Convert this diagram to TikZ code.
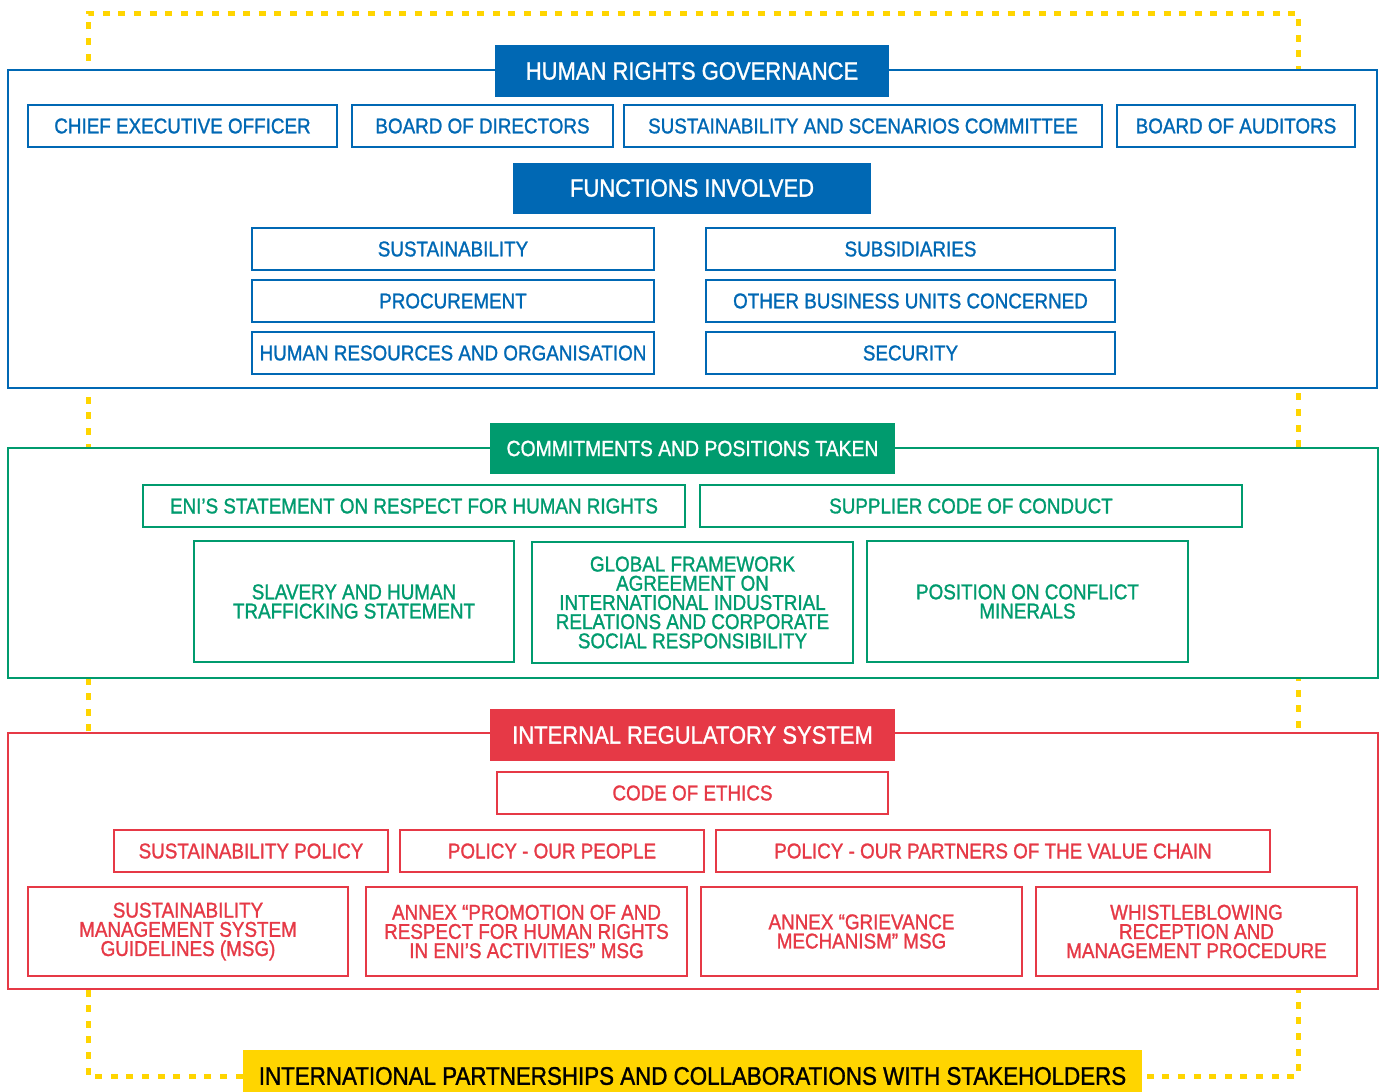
\documentclass[tikz,border=0pt]{standalone}
\usepackage{fontspec}
\setmainfont{Liberation Sans}[FakeStretch=0.88,FakeBold=1.2]
\definecolor{hrblue}{RGB}{0,104,180}
\definecolor{hrgreen}{RGB}{0,155,110}
\definecolor{hrred}{RGB}{230,57,70}
\definecolor{hryellow}{RGB}{255,213,0}
\tikzset{
  group/.style={draw=#1, line width=1pt, fill=white, inner sep=0pt},
  title/.style={fill=#1, text=white, inner sep=0pt, font=\fontsize{12.5}{12.5}\selectfont},
  item/.style={draw=#1, text=#1, line width=1pt, fill=white, inner sep=0pt,
    align=center, font=\fontsize{10.7}{9.6}\selectfont},
  link/.style={draw=hryellow, line width=2.5pt, dash pattern=on 3.5pt off 4.3pt}
}
\begin{document}
\begin{tikzpicture}[x=0.5pt,y=-0.5pt]
      \useasboundingbox (0,0) rectangle (1383,1092);
      \coordinate (ytl) at (88,13);
      \coordinate (ytr) at (1298,13);
      \node[title=hryellow, text=black, minimum width=449.5pt, minimum height=26pt, font=\fontsize{12.7}{12.7}\selectfont] (partners)
        at (692.5,1076) {INTERNATIONAL PARTNERSHIPS AND COLLABORATIONS WITH STAKEHOLDERS};
      \begin{scope}[-]
        \draw[link] (partners.west) -| (ytl) -- (ytr) |- (partners.east);
      \end{scope}
      \node[group=hrblue, minimum width=684.5pt, minimum height=159pt] (governance) at (692.5,229) {};
      \node[group=hrgreen, minimum width=685pt, minimum height=115pt] (commitments) at (693,563) {};
      \node[group=hrred, minimum width=685pt, minimum height=128pt] (regulatory) at (693,861) {};
      \node[title=hrblue, minimum width=197pt, minimum height=26pt] (hrg) at (692,71) {HUMAN RIGHTS GOVERNANCE};
      \node[item=hrblue, minimum width=154.5pt, minimum height=21pt] (ceo) at (182.5,126) {CHIEF EXECUTIVE OFFICER};
      \node[item=hrblue, minimum width=130.5pt, minimum height=21pt] (bod) at (482.5,126) {BOARD OF DIRECTORS};
      \node[item=hrblue, minimum width=239pt, minimum height=21pt] (ssc) at (863,126) {SUSTAINABILITY AND SCENARIOS COMMITTEE};
      \node[item=hrblue, minimum width=119pt, minimum height=21pt] (boa) at (1236,126) {BOARD OF AUDITORS};
      \node[title=hrblue, minimum width=179pt, minimum height=25.5pt] (functions) at (692,188) {FUNCTIONS INVOLVED};
      \node[item=hrblue, minimum width=201pt, minimum height=21pt] (sust) at (453,249) {SUSTAINABILITY};
      \node[item=hrblue, minimum width=201pt, minimum height=21pt] (proc) at (453,301) {PROCUREMENT};
      \node[item=hrblue, minimum width=201pt, minimum height=21pt] (hr) at (453,353) {HUMAN RESOURCES AND ORGANISATION};
      \node[item=hrblue, minimum width=204.5pt, minimum height=21pt] (subs) at (910.5,249) {SUBSIDIARIES};
      \node[item=hrblue, minimum width=204.5pt, minimum height=21pt] (units) at (910.5,301) {OTHER BUSINESS UNITS CONCERNED};
      \node[item=hrblue, minimum width=204.5pt, minimum height=21pt] (security) at (910.5,353) {SECURITY};
      \node[title=hrgreen, minimum width=202.5pt, minimum height=25.5pt, font=\fontsize{11}{11}\selectfont] (cpt) at (692.5,448.5) {COMMITMENTS AND POSITIONS TAKEN};
      \node[item=hrgreen, minimum width=271pt, minimum height=21pt] (statement) at (414,506) {ENI’S STATEMENT ON RESPECT FOR HUMAN RIGHTS};
      \node[item=hrgreen, minimum width=271pt, minimum height=21pt] (supplier) at (971,506) {SUPPLIER CODE OF CONDUCT};
      \node[item=hrgreen, minimum width=160pt, minimum height=60.5pt] (slavery) at (354,601.5) {SLAVERY AND HUMAN\\TRAFFICKING STATEMENT};
      \node[item=hrgreen, minimum width=160.5pt, minimum height=60.5pt] (gfa) at (692.5,602.5) {GLOBAL FRAMEWORK\\AGREEMENT ON\\INTERNATIONAL INDUSTRIAL\\RELATIONS AND CORPORATE\\SOCIAL RESPONSIBILITY};
      \node[item=hrgreen, minimum width=160.5pt, minimum height=60.5pt] (minerals) at (1027.5,601.5) {POSITION ON CONFLICT\\MINERALS};
      \node[title=hrred, minimum width=202.5pt, minimum height=26pt] (irs) at (692.5,735) {INTERNAL REGULATORY SYSTEM};
      \node[item=hrred, minimum width=195.5pt, minimum height=21pt] (ethics) at (692.5,793) {CODE OF ETHICS};
      \node[item=hrred, minimum width=137pt, minimum height=21pt] (spolicy) at (251,851) {SUSTAINABILITY POLICY};
      \node[item=hrred, minimum width=152pt, minimum height=21pt] (people) at (552,851) {POLICY - OUR PEOPLE};
      \node[item=hrred, minimum width=277pt, minimum height=21pt] (partnerspol) at (993,851) {POLICY - OUR PARTNERS OF THE VALUE CHAIN};
      \node[item=hrred, minimum width=160pt, minimum height=44.5pt] (msg) at (188,931.5) {SUSTAINABILITY\\MANAGEMENT SYSTEM\\GUIDELINES (MSG)};
      \node[item=hrred, minimum width=160.5pt, minimum height=44.5pt] (annexhr) at (526.5,931.5) {ANNEX “PROMOTION OF AND\\RESPECT FOR HUMAN RIGHTS\\IN ENI’S ACTIVITIES” MSG};
      \node[item=hrred, minimum width=160.5pt, minimum height=44.5pt] (annexgm) at (861.5,931.5) {ANNEX “GRIEVANCE\\MECHANISM” MSG};
      \node[item=hrred, minimum width=160.5pt, minimum height=44.5pt] (whistle) at (1196.5,931.5) {WHISTLEBLOWING\\RECEPTION AND\\MANAGEMENT PROCEDURE};
    \end{tikzpicture}
\end{document}
